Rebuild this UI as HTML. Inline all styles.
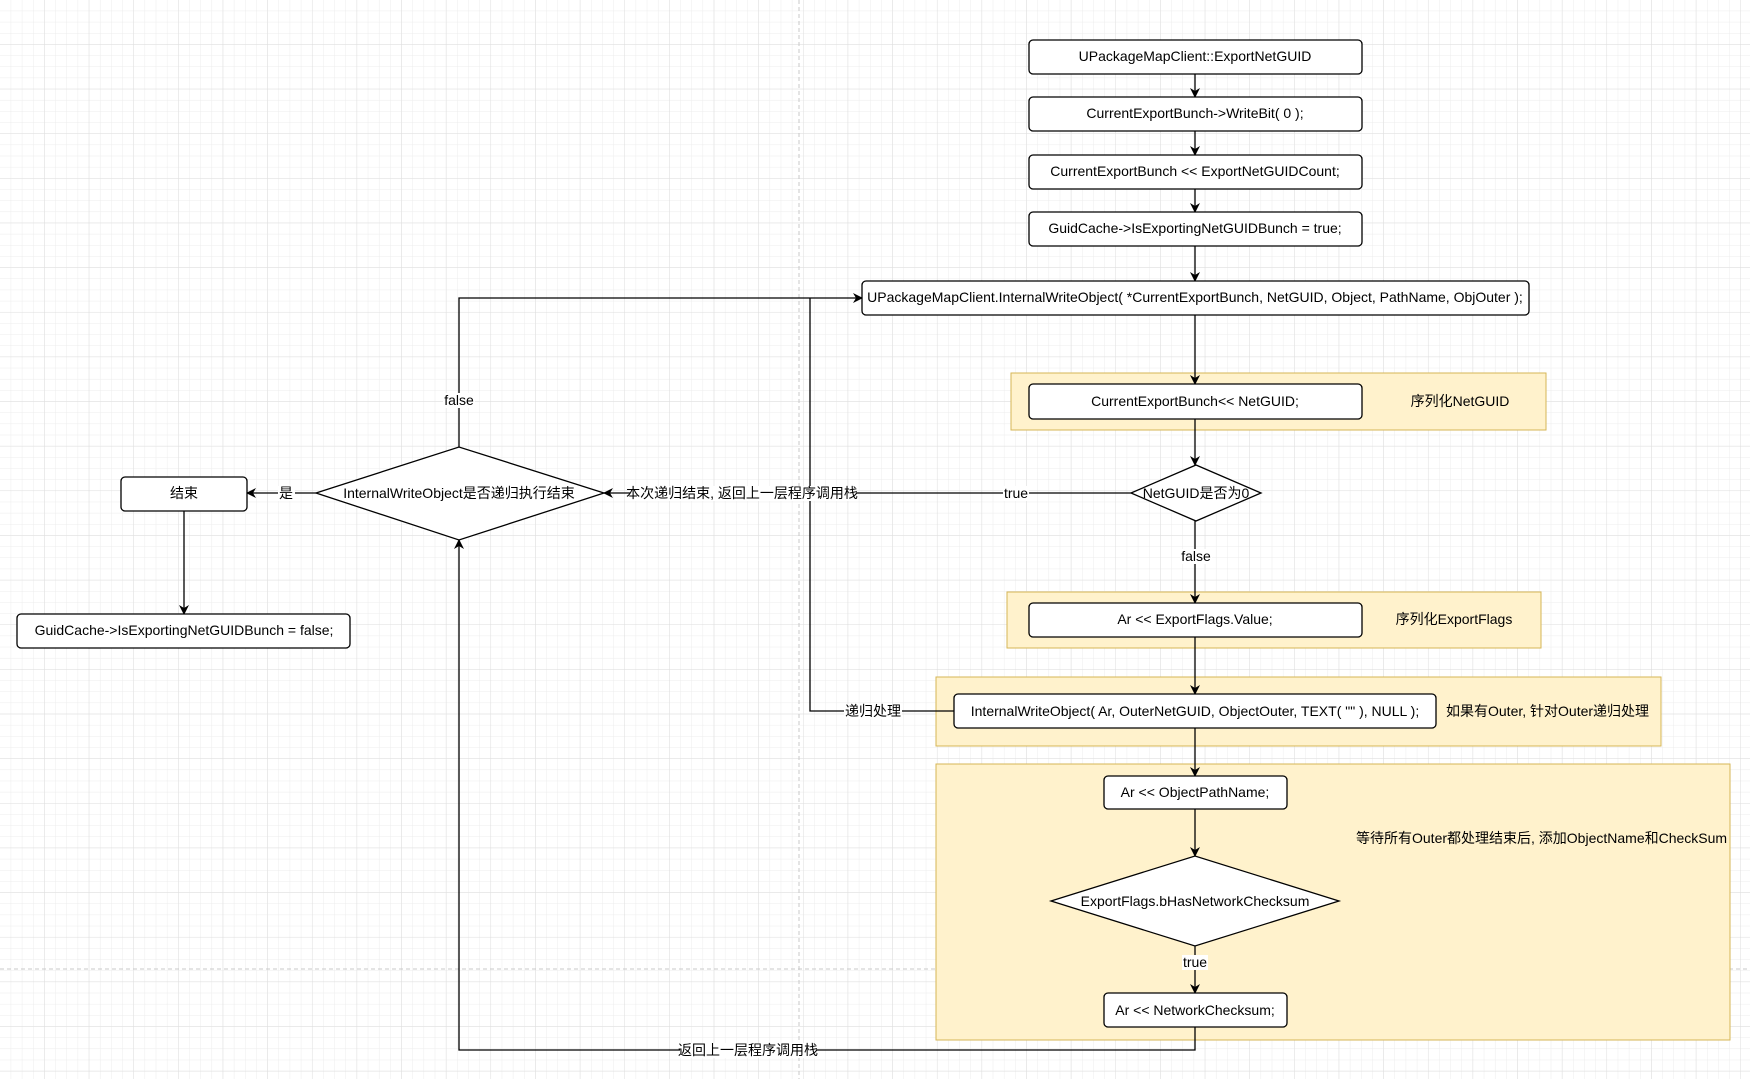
<!DOCTYPE html>
<html><head><meta charset="utf-8"><style>
html,body{margin:0;padding:0;background:#fff}
svg{display:block}
text{font-family:"Liberation Sans","Noto Sans CJK SC",sans-serif;font-size:14px;fill:#000}
</style></head><body>
<svg width="1750" height="1079" viewBox="0 0 1750 1079" xmlns="http://www.w3.org/2000/svg">
<defs>
<pattern id="g" width="11.16" height="11.16" patternUnits="userSpaceOnUse"><path d="M11.16 0V11.16H0" fill="none" stroke="#ececec" stroke-width="1"/></pattern>
<pattern id="G" width="44.64" height="44.64" patternUnits="userSpaceOnUse"><path d="M44.64 0V44.64H0" fill="none" stroke="#dedede" stroke-width="1"/></pattern>
<marker id="a" markerWidth="10" markerHeight="10" refX="9" refY="5" orient="auto" markerUnits="userSpaceOnUse"><path d="M0,0 L10,5 L0,10 L3,5Z" fill="#000"/></marker>
</defs>
<rect width="1750" height="1079" fill="url(#g)"/>
<rect width="1750" height="1079" fill="url(#G)"/>
<line x1="799" y1="0" x2="799" y2="1079" stroke="#c8c8c8" stroke-dasharray="4,3"/>
<line x1="0" y1="969" x2="1750" y2="969" stroke="#c8c8c8" stroke-dasharray="4,3"/>

<g fill="#fff2cc" stroke="#d6b656" stroke-width="1">
<rect x="1011" y="373" width="535" height="57"/>
<rect x="1007" y="592" width="534" height="56"/>
<rect x="936" y="677" width="725" height="69"/>
<rect x="936" y="764" width="794" height="276"/>
</g>

<g stroke="#000" stroke-width="1.3" fill="none">
<line x1="1195" y1="74" x2="1195" y2="97" marker-end="url(#a)"/>
<line x1="1195" y1="131" x2="1195" y2="155" marker-end="url(#a)"/>
<line x1="1195" y1="189" x2="1195" y2="212" marker-end="url(#a)"/>
<line x1="1195" y1="246" x2="1195" y2="281" marker-end="url(#a)"/>
<line x1="1195" y1="315" x2="1195" y2="384" marker-end="url(#a)"/>
<line x1="1195" y1="419" x2="1195" y2="465" marker-end="url(#a)"/>
<line x1="1195" y1="521" x2="1195" y2="603" marker-end="url(#a)"/>
<line x1="1195" y1="637" x2="1195" y2="694" marker-end="url(#a)"/>
<line x1="1195" y1="728" x2="1195" y2="776" marker-end="url(#a)"/>
<line x1="1195" y1="809" x2="1195" y2="856" marker-end="url(#a)"/>
<line x1="1195" y1="946" x2="1195" y2="993" marker-end="url(#a)"/>
<polyline points="1195,1027 1195,1050 459,1050 459,540" marker-end="url(#a)"/>
<line x1="1131" y1="493" x2="604" y2="493" marker-end="url(#a)"/>
<polyline points="459,447 459,298 862,298" marker-end="url(#a)"/>
<polyline points="954,711 810,711 810,298"/>
<line x1="316" y1="493" x2="247" y2="493" marker-end="url(#a)"/>
<line x1="184" y1="511" x2="184" y2="614" marker-end="url(#a)"/>
</g>

<g fill="#fff" stroke="#000" stroke-width="1.3">
<rect x="1029" y="40" width="333" height="34" rx="4"/>
<rect x="1029" y="97" width="333" height="34" rx="4"/>
<rect x="1029" y="155" width="333" height="34" rx="4"/>
<rect x="1029" y="212" width="333" height="34" rx="4"/>
<rect x="862" y="281" width="667" height="34" rx="4"/>
<rect x="1029" y="384" width="333" height="35" rx="4"/>
<polygon points="1131,493 1196,465 1261,493 1196,521"/>
<rect x="1029" y="603" width="333" height="34" rx="4"/>
<rect x="954" y="694" width="482" height="34" rx="4"/>
<rect x="1104" y="776" width="183" height="33" rx="4"/>
<polygon points="1051,901 1195,856 1339,901 1195,946"/>
<rect x="1104" y="993" width="183" height="34" rx="4"/>
<polygon points="316,493 459,447 604,493 459,540"/>
<rect x="121" y="477" width="126" height="34" rx="4"/>
<rect x="17" y="614" width="333" height="34" rx="4"/>
</g>

<g fill="#fff">
<rect x="443" y="393" width="32" height="15"/>
<rect x="278" y="486" width="17" height="15"/>
<rect x="630" y="486" width="226" height="15"/>
<rect x="1003" y="486" width="26" height="15"/>
<rect x="1180" y="549" width="32" height="15"/>
<rect x="844" y="704" width="58" height="15"/>
<rect x="1182" y="955" width="26" height="15"/>
<rect x="680" y="1043" width="136" height="15"/>
</g>

<g text-anchor="middle">
<text x="1195" y="61">UPackageMapClient::ExportNetGUID</text>
<text x="1195" y="118">CurrentExportBunch-&gt;WriteBit( 0 );</text>
<text x="1195" y="176">CurrentExportBunch &lt;&lt; ExportNetGUIDCount;</text>
<text x="1195" y="233">GuidCache-&gt;IsExportingNetGUIDBunch = true;</text>
<text x="1195" y="302">UPackageMapClient.InternalWriteObject( *CurrentExportBunch, NetGUID, Object, PathName, ObjOuter );</text>
<text x="1195" y="406">CurrentExportBunch&lt;&lt; NetGUID;</text>
<text x="1460" y="406">序列化NetGUID</text>
<text x="1196" y="498">NetGUID是否为0</text>
<text x="1196" y="561">false</text>
<text x="1195" y="624">Ar &lt;&lt; ExportFlags.Value;</text>
<text x="1454" y="624">序列化ExportFlags</text>
<text x="1195" y="716">InternalWriteObject( Ar, OuterNetGUID, ObjectOuter, TEXT( "" ), NULL );</text>
<text x="1195" y="797">Ar &lt;&lt; ObjectPathName;</text>
<text x="1195" y="906">ExportFlags.bHasNetworkChecksum</text>
<text x="1195" y="967">true</text>
<text x="1195" y="1015">Ar &lt;&lt; NetworkChecksum;</text>
<text x="748" y="1055">返回上一层程序调用栈</text>
<text x="459" y="498">InternalWriteObject是否递归执行结束</text>
<text x="459" y="405">false</text>
<text x="286" y="498">是</text>
<text x="184" y="498">结束</text>
<text x="184" y="635">GuidCache-&gt;IsExportingNetGUIDBunch = false;</text>
<text x="742" y="498">本次递归结束, 返回上一层程序调用栈</text>
<text x="1016" y="498">true</text>
<text x="873" y="716">递归处理</text>
</g>
<text x="1446" y="716">如果有Outer, 针对Outer递归处理</text>
<text x="1356" y="843">等待所有Outer都处理结束后, 添加ObjectName和CheckSum</text>
</svg>
</body></html>
